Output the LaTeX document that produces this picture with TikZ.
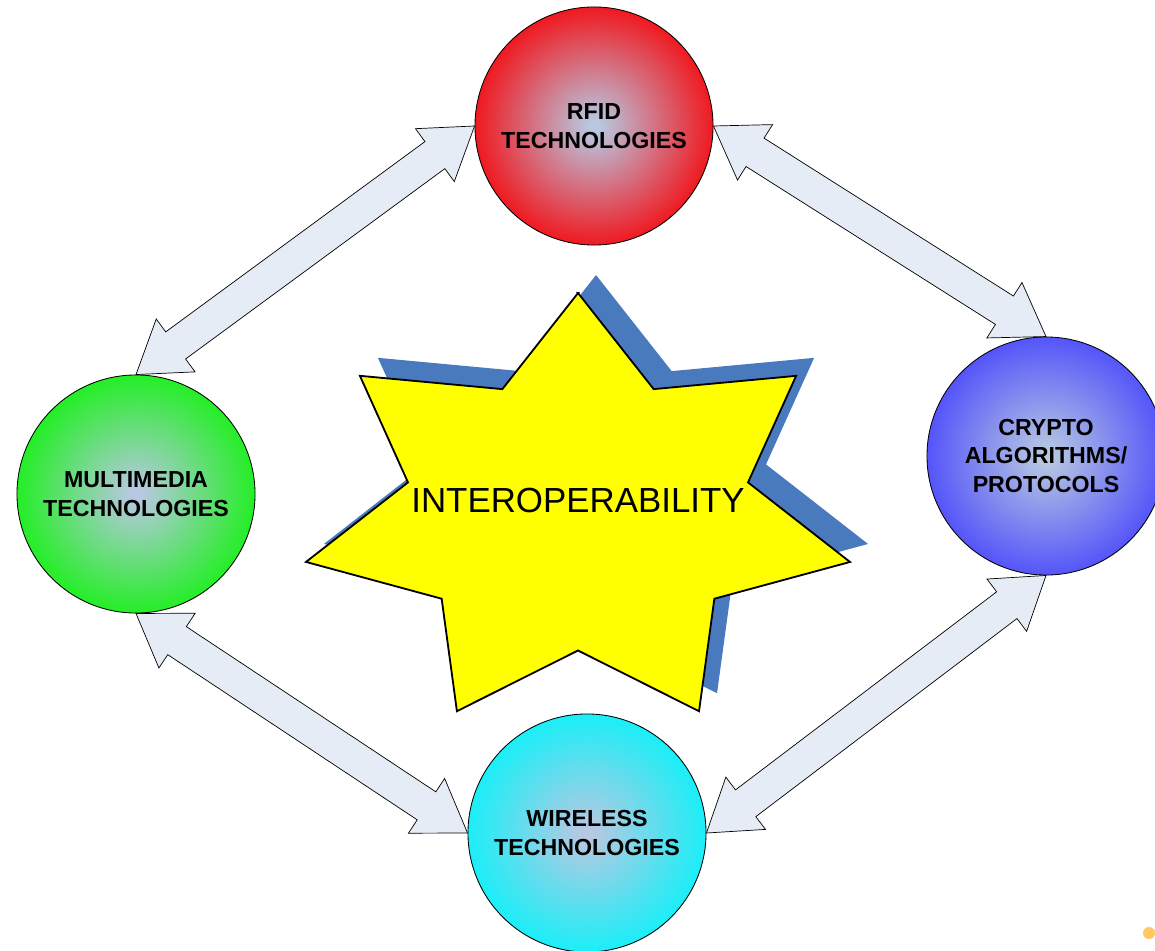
\documentclass[tikz,border=0pt]{standalone}
\usepackage{fontspec}
\setmainfont{Liberation Sans}
\usepackage{tikz}
\usetikzlibrary{calc}

\definecolor{hub}{RGB}{184,200,226}
\definecolor{rfidred}{RGB}{242,18,24}
\definecolor{mmgreen}{RGB}{30,240,30}
\definecolor{cryptoblue}{RGB}{80,80,250}
\definecolor{wlcyan}{RGB}{20,240,248}
\definecolor{arrowfill}{RGB}{230,236,246}
\definecolor{staryellow}{RGB}{255,255,0}
\definecolor{shadowblue}{RGB}{74,122,190}
\definecolor{dotorange}{RGB}{255,200,96}

\pgfdeclareradialshading{rfidball}{\pgfpoint{0bp}{0bp}}{color(0bp)=(hub); color(1bp)=(hub); color(26bp)=(rfidred); color(50bp)=(rfidred)}
\pgfdeclareradialshading{mmball}{\pgfpoint{0bp}{0bp}}{color(0bp)=(hub); color(1bp)=(hub); color(26bp)=(mmgreen); color(50bp)=(mmgreen)}
\pgfdeclareradialshading{cryptoball}{\pgfpoint{0bp}{0bp}}{color(0bp)=(hub); color(1bp)=(hub); color(26bp)=(cryptoblue); color(50bp)=(cryptoblue)}
\pgfdeclareradialshading{wlball}{\pgfpoint{0bp}{0bp}}{color(0bp)=(hub); color(1bp)=(hub); color(26bp)=(wlcyan); color(50bp)=(wlcyan)}

\newcommand\headlen{1.23cm}
\newcommand\headhalf{0.82cm}
\newcommand\shafthalf{0.42cm}
\newcommand\twoway[2]{%
  \draw[twoway] (#1)
    -- ($(#1)!\headlen!(#2)!\headhalf!90:(#2)$)
    -- ($(#1)!\headlen!(#2)!\shafthalf!90:(#2)$)
    -- ($(#2)!\headlen!(#1)!\shafthalf!-90:(#1)$)
    -- ($(#2)!\headlen!(#1)!\headhalf!-90:(#1)$)
    -- (#2)
    -- ($(#2)!\headlen!(#1)!\headhalf!90:(#1)$)
    -- ($(#2)!\headlen!(#1)!\shafthalf!90:(#1)$)
    -- ($(#1)!\headlen!(#2)!\shafthalf!-90:(#2)$)
    -- ($(#1)!\headlen!(#2)!\headhalf!-90:(#2)$)
    -- cycle;}

\begin{document}
\begin{tikzpicture}[x=0.025cm, y=-0.025cm,
	tech/.style={circle, draw=black, line width=0.6pt, shade, minimum size=5.95cm, inner sep=0pt, align=center, font=\fontsize{16.5}{20.5}\selectfont\bfseries},
	twoway/.style={draw=black, line width=0.5pt, fill=arrowfill, line join=miter},
	starbody/.style={draw=black, line width=1.3pt, fill=staryellow, line join=miter}]
	\useasboundingbox (0,0) rectangle (1155,951);

	\node[tech, shading=rfidball] (rfid) at (594,126) {RFID\\TECHNOLOGIES};
	\node[tech, shading=mmball] (mm) at (136,494) {MULTIMEDIA\\TECHNOLOGIES};
	\node[tech, shading=cryptoball] (crypto) at (1046,456) {CRYPTO\\ALGORITHMS/\\PROTOCOLS};
	\node[tech, shading=wlball] (wl) at (587,833) {WIRELESS\\TECHNOLOGIES};

	\foreach \a/\b in {mm.north/rfid.west, rfid.east/crypto.north, mm.south/wl.west, wl.east/crypto.south}
		\twoway{\a}{\b};

	% seven pointed star with its shadow
	\coordinate (core) at (578,513);
	\begin{scope}[shift={($(core)+(18,-18)$)}]
		\fill[shadowblue] (270:279 and 220) \foreach \k in {0,...,6} {-- (295.71+\k*51.43:174.4 and 137.5) -- (321.43+\k*51.43:279 and 220)} -- cycle;
	\end{scope}
	\begin{scope}[shift={(core)}]
		\draw[starbody] (270:279 and 220) \foreach \k in {0,...,6} {-- (295.71+\k*51.43:174.4 and 137.5) -- (321.43+\k*51.43:279 and 220)} -- cycle;
	\end{scope}
	\node[font=\fontsize{24.8}{28}\selectfont] (interop) at (578,500) {INTEROPERABILITY};

	\node[circle, fill=dotorange, minimum size=0.3cm, inner sep=0pt] (dot) at (1149,933) {};
\end{tikzpicture}
\end{document}
